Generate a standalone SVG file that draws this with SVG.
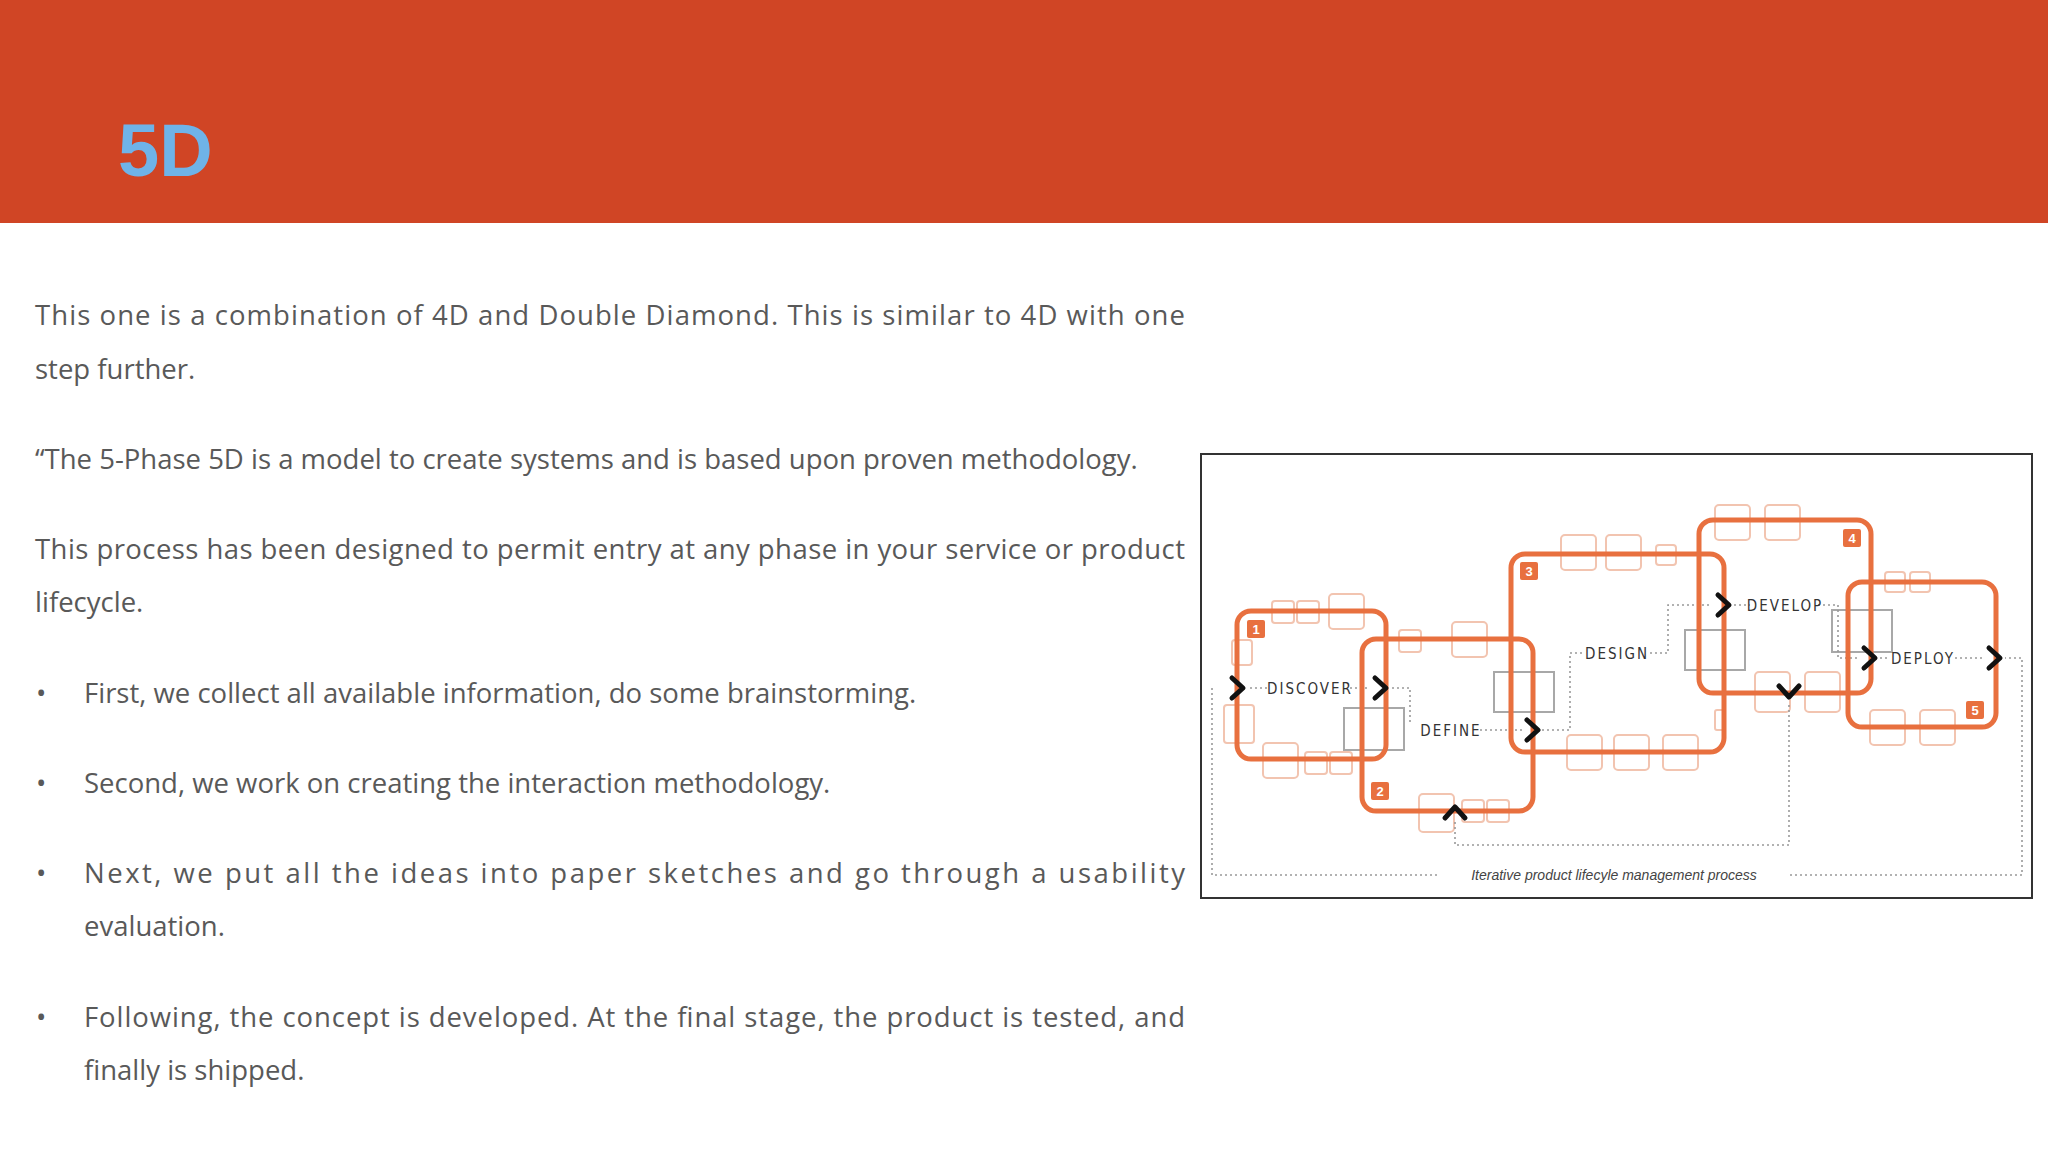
<svg xmlns="http://www.w3.org/2000/svg" width="2048" height="1152" viewBox="0 0 2048 1152">
<style>
.p{font-family:"Open Sans","Liberation Sans",sans-serif;font-size:27.5px;fill:#595959}
.sq{fill:none;stroke:#E8703F;stroke-width:5}
.pale{fill:none;stroke:#F2C4B0;stroke-width:2}
.gray{fill:none;stroke:#A8A8A8;stroke-width:2}
.dot{fill:none;stroke:#999;stroke-width:1.6;stroke-dasharray:2 3}
.chev{fill:none;stroke:#111;stroke-width:5;stroke-linecap:round;stroke-linejoin:round}
.lab{font-family:"DejaVu Sans Condensed","Liberation Sans Narrow",sans-serif;font-size:15px;letter-spacing:2px;fill:#333;text-anchor:middle}
.bd{fill:#E8703F}
.num{font-family:"Liberation Sans",sans-serif;font-size:13px;font-weight:bold;fill:#fff;text-anchor:middle}
</style>
<rect width="2048" height="1152" fill="#fff"/>
<rect id="header" width="2048" height="223" fill="#D04525"/>
<text x="118" y="176" font-family="Liberation Sans,Arial,sans-serif" font-weight="bold" font-size="74" fill="#6FB3E8">5D</text>
<g id="body">
<text class="p" x="35" y="325" textLength="1150" lengthAdjust="spacing">This one is a combination of 4D and Double Diamond. This is similar to 4D with one</text>
<text class="p" x="35" y="379">step further.</text>
<text class="p" x="35" y="469">“The 5-Phase 5D is a model to create systems and is based upon proven methodology.</text>
<text class="p" x="35" y="559" textLength="1150" lengthAdjust="spacing">This process has been designed to permit entry at any phase in your service or product</text>
<text class="p" x="35" y="612">lifecycle.</text>
<text class="p" x="36" y="703">•</text><text class="p" x="84" y="703">First, we collect all available information, do some brainstorming.</text>
<text class="p" x="36" y="793">•</text><text class="p" x="84" y="793">Second, we work on creating the interaction methodology.</text>
<text class="p" x="36" y="883">•</text><text class="p" x="84" y="883" textLength="1101" lengthAdjust="spacing">Next, we put all the ideas into paper sketches and go through a usability</text>
<text class="p" x="84" y="936">evaluation.</text>
<text class="p" x="36" y="1027">•</text><text class="p" x="84" y="1027" textLength="1101" lengthAdjust="spacing">Following, the concept is developed. At the final stage, the product is tested, and</text>
<text class="p" x="84" y="1080">finally is shipped.</text>
</g>
<rect id="frame" x="1201" y="454" width="831" height="444" fill="#fff" stroke="#333" stroke-width="2"/>
<g id="pale-squares">
<rect class="pale" x="1272" y="601" width="22" height="22" rx="3"/><rect class="pale" x="1297" y="601" width="22" height="22" rx="3"/><rect class="pale" x="1329" y="594" width="35" height="35" rx="4"/>
<rect class="pale" x="1232" y="640" width="20" height="25" rx="3"/><rect class="pale" x="1224" y="705" width="30" height="38" rx="3"/>
<rect class="pale" x="1263" y="743" width="35" height="35" rx="4"/><rect class="pale" x="1305" y="752" width="22" height="22" rx="3"/><rect class="pale" x="1330" y="752" width="22" height="22" rx="3"/>
<rect class="pale" x="1399" y="630" width="22" height="22" rx="3"/><rect class="pale" x="1452" y="622" width="35" height="35" rx="4"/>
<rect class="pale" x="1419" y="794" width="35" height="38" rx="4"/><rect class="pale" x="1462" y="800" width="22" height="22" rx="3"/><rect class="pale" x="1487" y="800" width="22" height="22" rx="3"/>
<rect class="pale" x="1561" y="535" width="35" height="35" rx="4"/><rect class="pale" x="1606" y="535" width="35" height="35" rx="4"/><rect class="pale" x="1656" y="545" width="20" height="20" rx="3"/>
<rect class="pale" x="1567" y="735" width="35" height="35" rx="4"/><rect class="pale" x="1614" y="735" width="35" height="35" rx="4"/><rect class="pale" x="1663" y="735" width="35" height="35" rx="4"/>
<rect class="pale" x="1715" y="505" width="35" height="35" rx="4"/><rect class="pale" x="1765" y="505" width="35" height="35" rx="4"/><rect class="pale" x="1715" y="710" width="10" height="20" rx="2"/>
<rect class="pale" x="1755" y="672" width="35" height="40" rx="4"/><rect class="pale" x="1805" y="672" width="35" height="40" rx="4"/>
<rect class="pale" x="1885" y="572" width="20" height="20" rx="3"/><rect class="pale" x="1910" y="572" width="20" height="20" rx="3"/>
<rect class="pale" x="1870" y="710" width="35" height="35" rx="4"/><rect class="pale" x="1920" y="710" width="35" height="35" rx="4"/>
</g>
<g id="gray-squares">
<rect class="gray" x="1344" y="708" width="60" height="42"/><rect class="gray" x="1494" y="672" width="60" height="40"/>
<rect class="gray" x="1685" y="630" width="60" height="40"/><rect class="gray" x="1832" y="610" width="60" height="42"/>
</g>
<g id="connectors">
<path class="dot" d="M1212 688 V875 H1440 M1790 875 H2022 V658 H2005"/>
<path class="dot" d="M1455 822 V845 H1789 V705"/>
<path class="dot" d="M1250 688 H1268 M1350 688 H1370 M1392 688 H1410 V725 M1480 730 H1522 M1542 730 H1570 V653 H1582 M1650 653 H1668 V605 H1712 M1734 605 H1750 M1818 605 H1838 V658 H1858 M1880 658 H1890 M1955 658 H1985"/>
</g>
<g id="node1"><rect class="sq" x="1237" y="611" width="149" height="148" rx="14"/><rect class="bd" x="1247" y="620" width="18" height="18" rx="2"/><text class="num" x="1256" y="634">1</text><text class="lab" x="1310" y="694">DISCOVER</text></g>
<g id="node2"><rect class="sq" x="1362" y="639" width="171" height="172" rx="14"/><rect class="bd" x="1371" y="782" width="18" height="18" rx="2"/><text class="num" x="1380" y="796">2</text><text class="lab" x="1451" y="736">DEFINE</text></g>
<g id="node3"><rect class="sq" x="1511" y="554" width="213" height="198" rx="14"/><rect class="bd" x="1520" y="562" width="18" height="18" rx="2"/><text class="num" x="1529" y="576">3</text><text class="lab" x="1617" y="659">DESIGN</text></g>
<g id="node4"><rect class="sq" x="1699" y="520" width="172" height="173" rx="14"/><rect class="bd" x="1843" y="529" width="18" height="18" rx="2"/><text class="num" x="1852" y="543">4</text><text class="lab" x="1785" y="611">DEVELOP</text></g>
<g id="node5"><rect class="sq" x="1848" y="582" width="148" height="145" rx="14"/><rect class="bd" x="1966" y="701" width="18" height="18" rx="2"/><text class="num" x="1975" y="715">5</text><text class="lab" x="1923" y="664">DEPLOY</text></g>
<g id="chevrons">
<path class="chev" d="M1232 678 L1243 688 L1232 698"/>
<path class="chev" d="M1375 678 L1386 688 L1375 698"/>
<path class="chev" d="M1527 720 L1538 730 L1527 740"/>
<path class="chev" d="M1718 595 L1729 605 L1718 615"/>
<path class="chev" d="M1864 648 L1875 658 L1864 668"/>
<path class="chev" d="M1989 648 L2000 658 L1989 668"/>
<path class="chev" d="M1779 686 L1789 697 L1799 686"/>
<path class="chev" d="M1445 818 L1455 807 L1465 818"/>
</g>
<text x="1614" y="880" font-family="Liberation Sans,sans-serif" font-style="italic" font-size="14" fill="#444" text-anchor="middle">Iterative product lifecyle management process</text>
</svg>
